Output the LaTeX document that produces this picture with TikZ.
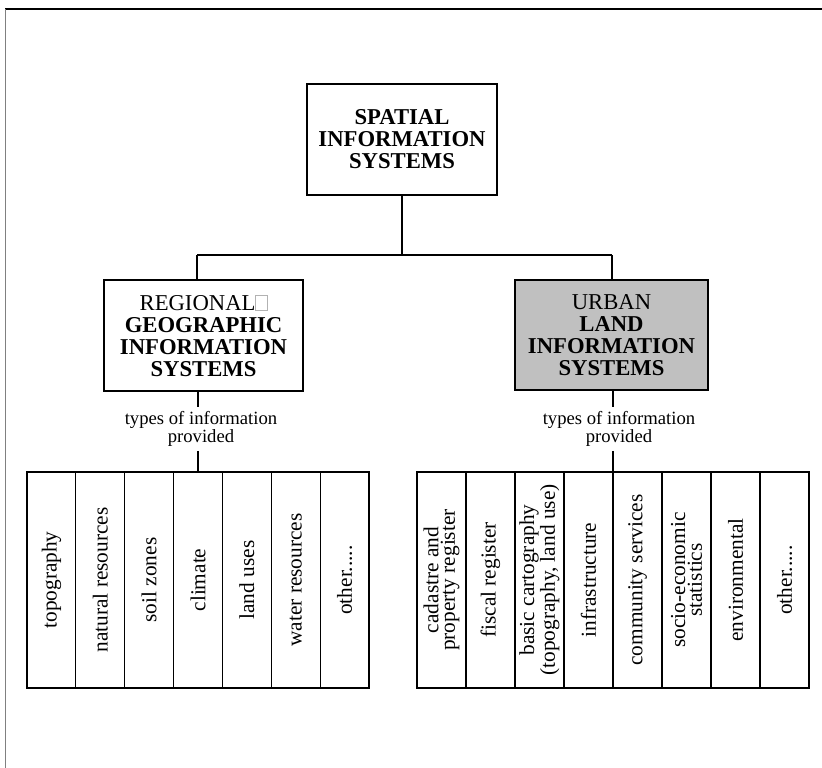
\documentclass[tikz,border=0pt]{standalone}
\usepackage{fontspec}
\setmainfont{Liberation Serif}
\definecolor{boxgray}{HTML}{C0C0C0}
\newcommand\missingglyph{\tikz[baseline=0pt]\draw[gray!60,line width=0.4pt] (0,0) rectangle (0.5em,0.68em);}
\newcommand\othertext{other.....}
\begin{document}
\begin{tikzpicture}[x=0.75pt,y=-0.75pt,
  sysbox/.style={draw,line width=1.5pt,align=center,inner sep=0pt,
    font=\fontsize{17}{16.5}\selectfont},
  bus/.style={line width=2.2pt},
  lbl/.style={align=center,inner sep=3pt,font=\fontsize{14}{12}\selectfont},
  tableframe/.style={draw,line width=1.6pt,minimum width=#1,minimum height=162pt,inner sep=0pt},
  cell/.style={draw,line width=0.8pt,rotate=90,minimum width=162pt,minimum height=36.75pt,
    inner sep=0pt,align=center,font=\fontsize{16}{12.5}\selectfont},
]
\useasboundingbox (0,0) rectangle (822,768);
% page frame
\draw[line width=1.1pt] (5,9) -- (822,9);
\draw[gray,line width=0.7pt] (5,9) -- (5,768);

% main boxes
\node[sysbox,minimum width=142.5pt,minimum height=83.25pt] (top) at (402,139.5)
  {\textbf{SPATIAL}\\\textbf{INFORMATION}\\\textbf{SYSTEMS}};
\node[sysbox,minimum width=149.25pt,minimum height=83.25pt] (lbox) at (203.5,335.5)
  {REGIONAL\missingglyph\\\textbf{GEOGRAPHIC}\\\textbf{INFORMATION}\\\textbf{SYSTEMS}};
\node[sysbox,fill=boxgray,minimum width=144.75pt,minimum height=82.5pt] (rbox) at (611.5,335)
  {URBAN\\\textbf{LAND}\\\textbf{INFORMATION}\\\textbf{SYSTEMS}};

% tables of information types
\node[tableframe=256.5pt] (ltab) at (198,580) {};
\node[tableframe=294pt] (rtab) at (613,580) {};
\foreach [count=\i] \t in {topography,natural resources,soil zones,climate,land uses,water resources,\othertext}
  \node[cell] (lc\i) at ({27+342/7*(\i-0.5)},580) {\t};
\foreach [count=\i] \t in {{cadastre and\\property register},fiscal register,
    {basic cartography\\(topography, land use)},infrastructure,community services,
    {socio-economic\\statistics},environmental,\othertext}
  \node[cell] (rc\i) at ({417+49*(\i-0.5)},580) {\t};
\node[tableframe=256.5pt] at (ltab) {};
\node[tableframe=294pt] at (rtab) {};

% labels
\node[lbl] (llbl) at (201,429) {types of information\\provided};
\node[lbl] (rlbl) at (619,429) {types of information\\provided};

% connectors
\coordinate (busL) at (197,255);
\coordinate (busR) at (612,255);
\draw[bus] (top.south) -- (top.south |- busL);
\draw[bus] (busL) -- (busR);
\draw[bus] (busL) -- (busL |- lbox.north);
\draw[bus] (busR) -- (busR |- rbox.north);
\draw[bus] (lbox.south -| ltab.north) -- (llbl.north -| ltab.north);
\draw[bus] (llbl.south -| ltab.north) -- (ltab.north);
\draw[bus] (rbox.south -| rtab.north) -- (rlbl.north -| rtab.north);
\draw[bus] (rlbl.south -| rtab.north) -- (rtab.north);
\end{tikzpicture}
\end{document}
